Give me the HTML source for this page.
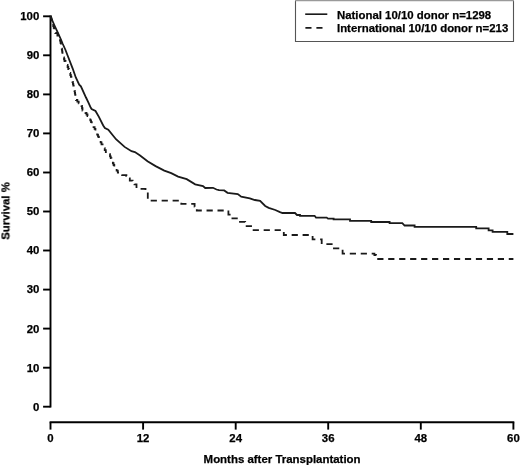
<!DOCTYPE html>
<html><head><meta charset="utf-8"><style>
html,body{margin:0;padding:0;background:#fff;}
svg{display:block;}
text{will-change:transform;stroke:#000;stroke-width:0.25px;}
text{font-family:"Liberation Sans",sans-serif;font-weight:bold;font-size:11.4px;fill:#000;}
.ax{stroke:#000;stroke-width:1.9;fill:none;stroke-linecap:butt;}
.c{stroke:#1a1a1a;stroke-width:1.8;fill:none;stroke-linejoin:miter;}
</style></head><body>
<svg width="520" height="466" viewBox="0 0 520 466">
<path d="M50.5 15.4V407.6" class="ax"/>
<path d="M43.1 16.3H50.5" class="ax"/>
<text x="39.3" y="20.20" text-anchor="end">100</text>
<path d="M43.1 55.3H50.5" class="ax"/>
<text x="39.3" y="59.24" text-anchor="end">90</text>
<path d="M43.1 94.4H50.5" class="ax"/>
<text x="39.3" y="98.28" text-anchor="end">80</text>
<path d="M43.1 133.4H50.5" class="ax"/>
<text x="39.3" y="137.32" text-anchor="end">70</text>
<path d="M43.1 172.5H50.5" class="ax"/>
<text x="39.3" y="176.36" text-anchor="end">60</text>
<path d="M43.1 211.5H50.5" class="ax"/>
<text x="39.3" y="215.40" text-anchor="end">50</text>
<path d="M43.1 250.5H50.5" class="ax"/>
<text x="39.3" y="254.44" text-anchor="end">40</text>
<path d="M43.1 289.6H50.5" class="ax"/>
<text x="39.3" y="293.48" text-anchor="end">30</text>
<path d="M43.1 328.6H50.5" class="ax"/>
<text x="39.3" y="332.52" text-anchor="end">20</text>
<path d="M43.1 367.7H50.5" class="ax"/>
<text x="39.3" y="371.56" text-anchor="end">10</text>
<path d="M43.1 406.7H50.5" class="ax"/>
<text x="39.3" y="410.60" text-anchor="end">0</text>
<path d="M49.6 422.3H514.3" class="ax"/>
<path d="M50.5 422.3V429.6" class="ax"/>
<text x="50.5" y="442.1" text-anchor="middle">0</text>
<path d="M143.1 422.3V429.6" class="ax"/>
<text x="143.1" y="442.1" text-anchor="middle">12</text>
<path d="M235.7 422.3V429.6" class="ax"/>
<text x="235.7" y="442.1" text-anchor="middle">24</text>
<path d="M328.2 422.3V429.6" class="ax"/>
<text x="328.2" y="442.1" text-anchor="middle">36</text>
<path d="M420.8 422.3V429.6" class="ax"/>
<text x="420.8" y="442.1" text-anchor="middle">48</text>
<path d="M513.4 422.3V429.6" class="ax"/>
<text x="513.4" y="442.1" text-anchor="middle">60</text>
<text x="282.1" y="462.6" text-anchor="middle" style="font-size:11.45px">Months after Transplantation</text>
<text transform="translate(9.4 211) rotate(-90)" text-anchor="middle">Survival %</text>
<path d="M50.5,16.4 L54.5,25.5 L57.9,32.8 L60.5,38.5 L62.8,44.0 L65.5,50.0 L67.8,56.0 L72.6,68.3 L75.8,77.5 L79.2,84.6 L80.9,86.3 L86.0,97.5 L88.1,101.8 L90.8,107.8 L91.6,109.0 L95.5,111.0 L98.9,116.9 L103.2,125.5 L104.9,128.0 L108.3,129.7 L116.0,139.2 L124.6,146.9 L131.5,151.2 L134.9,152.1 L140.1,155.5 L147.5,161.3 L155.6,166.1 L164.3,170.6 L171.2,173.2 L178.1,176.6 L186.7,179.2 L195.2,184.3 L203.0,186.1 L205.2,188.0 L213.0,187.8 L216.5,189.5 L219.0,190.2 L224.2,190.4 L227.5,192.8 L237.8,194.0 L241.2,196.6 L249.8,198.3 L254.9,200.0 L260.1,200.9 L265.2,206.0 L268.7,207.8 L275.3,210.0 L280.0,212.1L282.5,213H295L297,215H300V215.8H314.6L316,217.6H326.7L328,218.6H333.6V219.4H350V220.9H371.2V222H389.6V223.1H402.3L404.6,225.5H414.6V226.9H476.2V228.4H488.6V230.3H492.6V231.9H507.3V234H513.4" class="c"/>
<path d="M50.5,16.4H51.04V18.32H51.58V20.24H52.12V22.16H52.66V24.08H53.20V26.00H53.73V27.75H54.25V29.50H54.77V31.25H55.30V33.00H57.40V35.50H58.27V37.20H59.13V38.90H60.00V40.60H60.50V42.73H61.00V44.87H61.50V47.00H61.75V48.75H62.00V50.50H62.25V52.25H62.50V54.00H63.00V55.75H63.50V57.50H64.00V59.25H64.50V61.00H65.53V63.00H66.57V65.00H67.60V67.00H68.27V69.00H68.95V71.00H69.62V73.00H70.30V75.00H70.85V76.75H71.40V78.50H71.95V80.25H72.50V82.00H72.90V83.80H73.30V85.60H73.70V87.40H74.10V89.20H74.50V91.00H74.80V92.80H75.10V94.60H75.40V96.40H75.70V98.20H76.00V100.00H77.35V101.70H78.70V103.40H81.50V106.00H82.00V108.25H82.50V110.50H85.50V113.00H86.50V114.50H87.50V116.00H88.90V118.15H90.30V120.30H91.03V122.03H91.77V123.77H92.50V125.50H93.55V127.20H94.60V128.90H95.45V130.82H96.30V132.75H97.15V134.68H98.00V136.60H98.88V138.53H99.75V140.45H100.62V142.38H101.50V144.30H102.58V146.25H103.65V148.20H104.72V150.15H105.80V152.10H107.90V154.25H110.00V156.40H110.72V158.12H111.43V159.83H112.15V161.55H112.87V163.27H113.58V164.98H114.30V166.70H115.47V168.70H116.63V170.70H117.80V172.70H122.10V175.20H126.40V176.10H128.10V178.35H129.80V180.60H132.60V181.50H134.50V184.30H136.50V188.80H145.50V191.20H147.80V200.60H181.30V203.90H194.60V206.70H196.80V210.50H228.40V214.60H230.90V218.40H238.10V221.80H245.20V226.10H252.50V230.10H283.80V235.00H312.60V239.40H321.70V244.10H333.00V248.40H342.60V253.60H374.40V255.00H376.00V259.00H513.40" class="c" stroke-dasharray="6.2 4.76" stroke-dashoffset="0.57"/>
<rect x="295.5" y="0.5" width="218" height="41" fill="#fff" stroke="none"/>
<path d="M295.5 0.5V41.5H513.5V0.5" fill="none" stroke="#555" stroke-width="1.1"/>
<path d="M295 0.6H514" fill="none" stroke="#9a9a9a" stroke-width="1.2"/>
<path d="M305.2 14.2H327.3" class="c" style="stroke-width:1.65"/>
<path d="M305.4 27.8H327.3" class="c" style="stroke-width:1.7" stroke-dasharray="6.1 4.9"/>
<text x="337" y="18.6">National 10/10 donor n=1298</text>
<text x="337" y="32.4">International 10/10 donor n=213</text>
</svg>
</body></html>
